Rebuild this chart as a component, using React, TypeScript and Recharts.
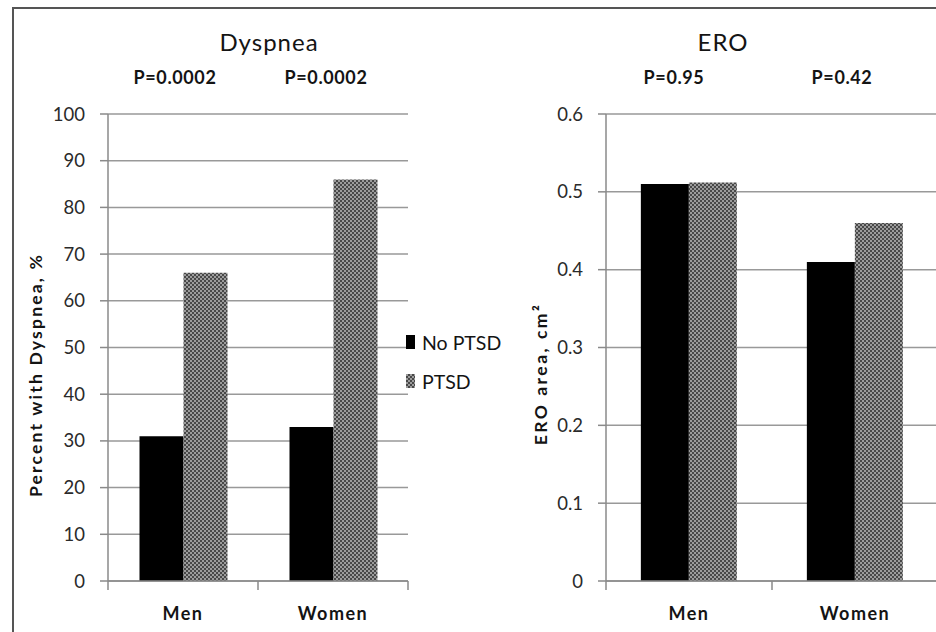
import { Bar, BarChart, CartesianGrid, XAxis, YAxis } from 'recharts';

const categories = ['Men', 'Women'];
const seriesNames = ['No PTSD', 'PTSD'];
const dyspneaNoPtsd = [31, 33];
const dyspneaPtsd = [66, 86];
const eroNoPtsd = [0.51, 0.41];
const eroPtsd = [0.512, 0.46];
const dyspneaTicks = [0, 10, 20, 30, 40, 50, 60, 70, 80, 90, 100];
const eroTicks = [0, 0.1, 0.2, 0.3, 0.4, 0.5, 0.6];
const dyspneaP = ['P=0.0002', 'P=0.0002'];
const eroP = ['P=0.95', 'P=0.42'];

const dyspneaData = categories.map((name, i) => ({
  name,
  noPtsd: dyspneaNoPtsd[i],
  ptsd: dyspneaPtsd[i]
}));

const eroData = categories.map((name, i) => ({
  name,
  noPtsd: eroNoPtsd[i],
  ptsd: eroPtsd[i]
}));

const FONT = 'Lato, "Open Sans", sans-serif';
const AXIS = '#8a8a8a';
const GRID = '#999';
const INK = '#141414';

// ticks sit on the category edges, like excel does
const CategoryTick = (props: any) => {
  const { x, y, payload } = props;
  const half = payload.offset ?? 0;
  const last = payload.value === categories[categories.length - 1];
  return (
    <g>
      <line x1={x - half} x2={x - half} y1={y} y2={y + 9} stroke={AXIS} strokeWidth={1.5} />
      {last && <line x1={x + half} x2={x + half} y1={y} y2={y + 9} stroke={AXIS} strokeWidth={1.5} />}
      <text
        x={x}
        y={y + 32}
        textAnchor="middle"
        dominantBaseline="central"
        fontFamily={FONT}
        fontWeight="bold"
        fontSize={18}
        letterSpacing={1.5}
        fill={INK}
      >
        {payload.value}
      </text>
    </g>
  );
};

const Pattern = ({ id }: { id: string }) => (
  <defs>
    <pattern id={id} width="4" height="4" patternUnits="userSpaceOnUse">
      <rect width="4" height="4" fill="#9c9c9c" />
      <rect width="2" height="2" fill="#484848" />
      <rect x="2" y="2" width="2" height="2" fill="#484848" />
    </pattern>
  </defs>
);

const textBase: React.CSSProperties = {
  position: 'absolute',
  fontFamily: FONT,
  color: INK,
  whiteSpace: 'nowrap',
  transform: 'translate(-50%, -50%)'
};

const pStyle: React.CSSProperties = {
  ...textBase,
  top: 77,
  fontSize: 18,
  fontWeight: 'bold',
  letterSpacing: 0.6
};

const swatch: React.CSSProperties = {
  display: 'inline-block',
  width: 9,
  height: 14,
  marginRight: 7
};

const App = () => {
  return (
    <div
      style={{
        position: 'fixed',
        left: 0,
        top: 0,
        width: 936,
        height: 632,
        overflow: 'hidden',
        background: '#fff'
      }}
    >
      <div
        style={{
          position: 'absolute',
          left: 12,
          top: 7,
          width: 1000,
          height: 700,
          border: '2px solid #555'
        }}
      />

      <div style={{ position: 'absolute', left: 0, top: 0 }}>
        <BarChart
          width={430}
          height={632}
          data={dyspneaData}
          margin={{ top: 114, right: 22, bottom: 11, left: 0 }}
          barCategoryGap="21%"
          barGap={0}
        >
          <Pattern id="ptsdLeft" />
          <CartesianGrid vertical={false} stroke={GRID} strokeWidth={1.5} />
          <XAxis
            dataKey="name"
            height={40}
            stroke={AXIS}
            strokeWidth={1.5}
            tickLine={false}
            tickSize={0}
            tickMargin={0}
            tick={<CategoryTick />}
          />
          <YAxis
            width={108}
            domain={[0, 100]}
            ticks={dyspneaTicks}
            interval={0}
            stroke={AXIS}
            strokeWidth={1.5}
            tickSize={8}
            tickMargin={15}
            tick={{ fill: '#2a2a2a', fontSize: 18.5, fontFamily: FONT }}
          />
          <Bar dataKey="noPtsd" fill="#000" isAnimationActive={false} />
          <Bar dataKey="ptsd" fill="url(#ptsdLeft)" isAnimationActive={false} />
        </BarChart>
      </div>

      <div style={{ position: 'absolute', left: 480, top: 0 }}>
        <BarChart
          width={480}
          height={632}
          data={eroData}
          margin={{ top: 114, right: 22, bottom: 11, left: 0 }}
          barCategoryGap="21%"
          barGap={0}
        >
          <Pattern id="ptsdRight" />
          <CartesianGrid vertical={false} stroke={GRID} strokeWidth={1.5} />
          <XAxis
            dataKey="name"
            height={40}
            stroke={AXIS}
            strokeWidth={1.5}
            tickLine={false}
            tickSize={0}
            tickMargin={0}
            tick={<CategoryTick />}
          />
          <YAxis
            width={126}
            domain={[0, 0.6]}
            ticks={eroTicks}
            interval={0}
            stroke={AXIS}
            strokeWidth={1.5}
            tickSize={8}
            tickMargin={15}
            tick={{ fill: '#2a2a2a', fontSize: 18.5, fontFamily: FONT }}
          />
          <Bar dataKey="noPtsd" fill="#000" isAnimationActive={false} />
          <Bar dataKey="ptsd" fill="url(#ptsdRight)" isAnimationActive={false} />
        </BarChart>
      </div>

      {/* titles */}
      <div style={{ ...textBase, left: 269, top: 41, fontSize: 24, letterSpacing: 1 }}>Dyspnea</div>
      <div style={{ ...textBase, left: 723, top: 41, fontSize: 24, letterSpacing: 1 }}>ERO</div>

      {/* p values */}
      <div style={{ ...pStyle, left: 175 }}>{dyspneaP[0]}</div>
      <div style={{ ...pStyle, left: 326 }}>{dyspneaP[1]}</div>
      <div style={{ ...pStyle, left: 674 }}>{eroP[0]}</div>
      <div style={{ ...pStyle, left: 842 }}>{eroP[1]}</div>

      {/* axis titles */}
      <div
        style={{
          ...textBase,
          left: 35,
          top: 375,
          fontSize: 17.5,
          fontWeight: 'bold',
          letterSpacing: 2.2,
          transform: 'translate(-50%, -50%) rotate(-90deg)'
        }}
      >
        Percent with Dyspnea, %
      </div>
      <div
        style={{
          ...textBase,
          left: 540,
          top: 374,
          fontSize: 17.5,
          fontWeight: 'bold',
          letterSpacing: 2.5,
          transform: 'translate(-50%, -50%) rotate(-90deg)'
        }}
      >
        ERO area, cm²
      </div>

      {/* legend */}
      <div style={{ position: 'absolute', left: 406, top: 331, fontFamily: FONT, fontSize: 19.5, color: INK }}>
        <div style={{ display: 'flex', alignItems: 'center', height: 22 }}>
          <span style={{ ...swatch, background: '#000' }} />
          {seriesNames[0]}
        </div>
        <div style={{ display: 'flex', alignItems: 'center', height: 22, marginTop: 17 }}>
          <span
            style={{
              ...swatch,
              background: 'repeating-conic-gradient(#484848 0 25%, #9c9c9c 0 50%) 0 0 / 4px 4px'
            }}
          />
          {seriesNames[1]}
        </div>
      </div>
    </div>
  );
};

export default App;
